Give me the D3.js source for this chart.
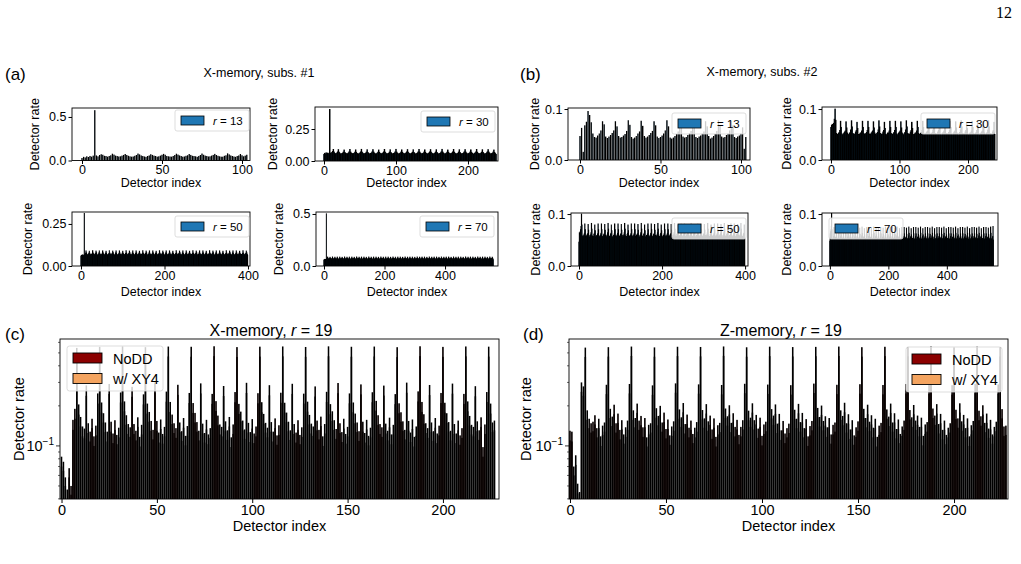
<!DOCTYPE html>
<html>
<head>
<meta charset="utf-8">
<script src="https://cdn.jsdelivr.net/npm/d3@7/dist/d3.min.js"></script>
<style>
  body { margin: 0; background: #fff; }
  svg text { font-family: "Liberation Sans", Arial, Helvetica, sans-serif; fill: #000; }
</style>
</head>
<body>
<svg id="fig" width="1021" height="564"></svg>
<script>
// detector rates in units of 1e-3, 8 detectors per round
var subs1_r13 = [
 28,42,35,48,40,52,44,56, 578,58,48,62,72,66,54,50,
 44,52,60,78,68,56,50,46, 48,56,64,74,62,54,48,44,
 46,54,62,80,70,58,52,46, 42,50,58,72,64,56,50,44,
 48,56,66,76,66,52,48,46, 44,52,62,78,68,58,50,44,
 46,54,60,74,64,54,50,48, 42,52,62,80,66,56,52,46,
 48,56,64,76,62,54,48,44, 44,54,60,82,70,58,50,46,
 42,50,58,74,60,48,56,66];
var subs1_r30 = [
 52,60,55,64,58,62,56,60, 402,62,58,66,74,90,70,60,
 56,58,63,71,89,69,61,55, 54,59,62,70,86,67,60,57,
 55,57,64,72,90,70,62,56, 57,58,61,69,87,68,59,55,
 54,60,63,71,91,69,61,56, 56,58,62,70,88,67,60,55,
 55,59,64,72,89,70,62,57, 53,57,62,69,86,68,60,55,
 56,60,63,71,90,69,61,56, 55,58,61,70,88,67,59,54,
 57,59,64,72,91,70,62,56, 54,58,62,70,87,68,60,55,
 56,60,63,71,89,69,61,57, 55,57,62,69,88,67,60,55,
 53,59,64,72,90,70,62,56, 56,58,61,70,87,68,59,55,
 55,60,63,71,89,69,61,57, 54,58,62,70,88,67,60,54,
 56,59,64,72,91,70,62,56, 55,57,62,69,86,68,60,55,
 57,60,63,71,90,69,61,57, 54,58,61,70,88,67,59,55,
 56,59,64,72,89,70,62,56, 55,58,62,70,87,68,60,55,
 53,60,63,71,90,69,61,57, 56,57,62,69,88,67,60,54,
 55,59,64,72,89,70,62,56, 54,58,61,70,86,66,58,52];
var subs1_r50 = [
 58,62,60,66,63,65,61,64, 312,66,70,76,90,78,70,66,
 65,66,71,77,88,76,69,65, 63,68,70,75,91,77,71,66,
 66,67,72,76,89,79,70,64, 64,66,70,78,90,76,68,65,
 64,67,70,76,90,78,70,66, 65,66,71,77,88,76,69,65,
 63,68,70,75,91,77,71,66, 66,67,72,76,89,79,70,64,
 64,66,70,78,90,76,68,65, 64,67,70,76,90,78,70,66,
 65,66,71,77,88,76,69,65, 63,68,70,75,91,77,71,66,
 66,67,72,76,89,79,70,64, 64,66,70,78,90,76,68,65,
 64,67,70,76,90,78,70,66, 65,66,71,77,88,76,69,65,
 63,68,70,75,91,77,71,66, 66,67,72,76,89,79,70,64,
 64,66,70,78,90,76,68,65, 64,67,70,76,90,78,70,66,
 65,66,71,77,88,76,69,65, 63,68,70,75,91,77,71,66,
 66,67,72,76,89,79,70,64, 64,66,70,78,90,76,68,65,
 64,67,70,76,90,78,70,66, 65,66,71,77,88,76,69,65,
 63,68,70,75,91,77,71,66, 66,67,72,76,89,79,70,64,
 64,66,70,78,90,76,68,65, 64,67,70,76,90,78,70,66,
 65,66,71,77,88,76,69,65, 63,68,70,75,91,77,71,66,
 66,67,72,76,89,79,70,64, 64,66,70,78,90,76,68,65,
 64,67,70,76,90,78,70,66, 65,66,71,77,88,76,69,65,
 63,68,70,75,91,77,71,66, 66,67,72,76,89,79,70,64,
 64,66,70,78,90,76,68,65, 64,67,70,76,90,78,70,66,
 65,66,71,77,88,76,69,65, 63,68,70,75,91,77,71,66,
 66,67,72,76,89,79,70,64, 64,66,70,78,90,76,68,65,
 64,67,70,76,90,78,70,66, 65,66,71,77,88,76,69,65,
 63,68,70,75,91,77,71,66, 66,67,72,76,89,79,70,64];
var subs1_r70 = [
 56,60,58,64,61,63,59,62, 502,66,69,74,86,76,69,65,
 64,65,70,75,84,75,68,64, 62,67,69,73,87,77,70,65,
 65,66,71,74,85,76,69,63, 63,65,69,76,86,75,67,64,
 63,66,69,74,86,76,69,65, 64,65,70,75,84,75,68,64,
 62,67,69,73,87,77,70,65, 65,66,71,74,85,76,69,63,
 63,65,69,76,86,75,67,64, 63,66,69,74,86,76,69,65,
 64,65,70,75,84,75,68,64, 62,67,69,73,87,77,70,65,
 65,66,71,74,85,76,69,63, 63,65,69,76,86,75,67,64,
 63,66,69,74,86,76,69,65, 64,65,70,75,84,75,68,64,
 62,67,69,73,87,77,70,65, 65,66,71,74,85,76,69,63,
 63,65,69,76,86,75,67,64, 63,66,69,74,86,76,69,65,
 64,65,70,75,84,75,68,64, 62,67,69,73,87,77,70,65,
 65,66,71,74,85,76,69,63, 63,65,69,76,86,75,67,64,
 63,66,69,74,86,76,69,65, 64,65,70,75,84,75,68,64,
 62,67,69,73,87,77,70,65, 65,66,71,74,85,76,69,63,
 63,65,69,76,86,75,67,64, 63,66,69,74,86,76,69,65,
 64,65,70,75,84,75,68,64, 62,67,69,73,87,77,70,65,
 65,66,71,74,85,76,69,63, 63,65,69,76,86,75,67,64,
 63,66,69,74,86,76,69,65, 64,65,70,75,84,75,68,64,
 62,67,69,73,87,77,70,65, 65,66,71,74,85,76,69,63,
 63,65,69,76,86,75,67,64, 63,66,69,74,86,76,69,65,
 64,65,70,75,84,75,68,64, 62,67,69,73,87,77,70,65,
 65,66,71,74,85,76,69,63, 63,65,69,76,86,75,67,64,
 63,66,69,74,86,76,69,65, 64,65,70,75,84,75,68,64,
 62,67,69,73,87,77,70,65, 65,66,71,74,85,76,69,63,
 63,65,69,76,86,75,67,64, 63,66,69,74,86,76,69,65,
 64,65,70,75,84,75,68,64, 62,67,69,73,87,77,70,65,
 65,66,71,74,85,76,69,63, 63,65,69,76,86,75,67,64,
 63,66,69,74,86,76,69,65, 64,65,70,75,84,75,68,64,
 62,67,69,73,87,77,70,65, 65,66,71,74,85,76,69,63,
 63,65,69,76,86,75,67,64, 63,66,69,74,86,76,69,65,
 64,65,70,75,84,75,68,64, 62,67,69,73,87,77,70,65,
 65,66,71,74,85,76,69,63, 63,65,69,76,86,75,67,64,
 63,66,69,74,86,76,69,65, 64,65,70,75,84,75,68,64,
 62,67,69,73,87,77,70,65, 65,66,71,74,85,76,69,61];

var subs2_r13 = [
 47,63,16,68,75,96,88,74, 52,45,44,48,52,58,76,70,
 46,43,46,49,53,58,76,66, 47,44,45,48,51,57,78,69,
 45,42,44,47,52,56,77,67, 47,44,46,49,53,57,76,68,
 46,43,45,48,52,58,78,66, 44,42,44,47,51,56,75,67,
 46,44,45,49,53,57,77,68, 45,43,46,48,52,56,76,66,
 47,42,44,47,51,57,78,67, 46,44,45,49,52,58,77,68,
 45,43,46,48,52,64,22,45];
var subs2_r30 = [
 64,68,70,66,72,80,100,78, 52,50,50,52,54,58,76,64,
 51,49,51,53,55,57,75,63, 53,50,49,52,54,59,77,65,
 52,51,50,51,55,58,74,62, 50,49,51,53,53,57,76,64,
 52,50,50,52,54,58,76,64, 51,49,51,53,55,57,75,63,
 53,50,49,52,54,59,77,65, 52,51,50,51,55,58,74,62,
 50,49,51,53,53,57,76,64, 52,50,50,52,54,58,76,64,
 51,49,51,53,55,57,75,63, 53,50,49,52,54,59,77,65,
 52,51,50,51,55,58,74,62, 50,49,51,53,53,57,76,64,
 52,50,50,52,54,58,76,64, 51,49,51,53,55,57,75,63,
 53,50,49,52,54,59,77,65, 52,51,50,51,55,58,74,62,
 50,49,51,53,53,57,76,64, 52,50,50,52,54,58,76,64,
 51,49,51,53,55,57,75,63, 53,50,49,52,54,59,77,65,
 52,51,50,51,55,58,74,62, 50,49,51,53,53,57,76,64,
 52,50,50,52,54,58,76,64, 51,49,51,53,55,57,75,63,
 53,50,49,52,54,59,77,65, 52,51,50,51,55,58,74,50];
var subs2_r50 = [
 46,64,60,66,70,76,100,79, 58,56,56,58,60,63,81,70,
 57,55,57,59,61,62,80,69, 59,56,55,58,60,64,82,71,
 58,57,56,57,61,63,79,68, 56,55,57,59,59,62,81,70,
 58,56,56,58,60,63,81,70, 57,55,57,59,61,62,80,69,
 59,56,55,58,60,64,82,71, 58,57,56,57,61,63,79,68,
 56,55,57,59,59,62,81,70, 58,56,56,58,60,63,81,70,
 57,55,57,59,61,62,80,69, 59,56,55,58,60,64,82,71,
 58,57,56,57,61,63,79,68, 56,55,57,59,59,62,81,70,
 58,56,56,58,60,63,81,70, 57,55,57,59,61,62,80,69,
 59,56,55,58,60,64,82,71, 58,57,56,57,61,63,79,68,
 56,55,57,59,59,62,81,70, 58,56,56,58,60,63,81,70,
 57,55,57,59,61,62,80,69, 59,56,55,58,60,64,82,71,
 58,57,56,57,61,63,79,68, 56,55,57,59,59,62,81,70,
 58,56,56,58,60,63,81,70, 57,55,57,59,61,62,80,69,
 59,56,55,58,60,64,82,71, 58,57,56,57,61,63,79,68,
 56,55,57,59,59,62,81,70, 58,56,56,58,60,63,81,70,
 57,55,57,59,61,62,80,69, 59,56,55,58,60,64,82,71,
 58,57,56,57,61,63,79,68, 56,55,57,59,59,62,81,70,
 58,56,56,58,60,63,81,70, 57,55,57,59,61,62,80,69,
 59,56,55,58,60,64,82,71, 58,57,56,57,61,63,79,68,
 56,55,57,59,59,62,81,70, 58,56,56,58,60,63,81,70,
 57,55,57,59,61,62,80,69, 59,56,55,58,60,64,82,71,
 58,57,56,57,61,63,79,68, 56,55,57,59,59,62,81,70,
 58,56,56,58,60,63,81,70, 57,55,57,59,61,62,80,69,
 59,56,55,58,60,64,82,71, 58,57,56,57,61,63,79,52];
var subs2_r70 = [
 48,62,58,66,70,76,101,70, 52,51,51,52,54,57,74,62,
 51,50,52,53,55,56,73,61, 53,51,50,52,54,58,75,63,
 52,52,51,51,55,57,72,60, 50,50,52,53,53,56,74,62,
 52,51,51,52,54,57,74,62, 51,50,52,53,55,56,73,61,
 53,51,50,52,54,58,75,63, 52,52,51,51,55,57,72,60,
 50,50,52,53,53,56,74,62, 52,51,51,52,54,57,74,62,
 51,50,52,53,55,56,73,61, 53,51,50,52,54,58,75,63,
 52,52,51,51,55,57,72,60, 50,50,52,53,53,56,74,62,
 52,51,51,52,54,57,74,62, 51,50,52,53,55,56,73,61,
 53,51,50,52,54,58,75,63, 52,52,51,51,55,57,72,60,
 50,50,52,53,53,56,74,62, 52,51,51,52,54,57,74,62,
 51,50,52,53,55,56,73,61, 53,51,50,52,54,58,75,63,
 52,52,51,51,55,57,72,60, 50,50,52,53,53,56,74,62,
 52,51,51,52,54,57,74,62, 51,50,52,53,55,56,73,61,
 53,51,50,52,54,58,75,63, 52,52,51,51,55,57,72,60,
 50,50,52,53,53,56,74,62, 52,51,51,52,54,57,74,62,
 51,50,52,53,55,56,73,61, 53,51,50,52,54,58,75,63,
 52,52,51,51,55,57,72,60, 50,50,52,53,53,56,74,62,
 52,51,51,52,54,57,74,62, 51,50,52,53,55,56,73,61,
 53,51,50,52,54,58,75,63, 52,52,51,51,55,57,72,60,
 50,50,52,53,53,56,74,62, 52,51,51,52,54,57,74,62,
 51,50,52,53,55,56,73,61, 53,51,50,52,54,58,75,63,
 52,52,51,51,55,57,72,60, 50,50,52,53,53,56,74,62,
 52,51,51,52,54,57,74,62, 51,50,52,53,55,56,73,61,
 53,51,50,52,54,58,75,63, 52,52,51,51,55,57,72,60,
 50,50,52,53,53,56,74,62, 52,51,51,52,54,57,74,62,
 51,50,52,53,55,56,73,61, 53,51,50,52,54,58,75,63,
 52,52,51,51,55,57,72,60, 50,50,52,53,53,56,74,62,
 52,51,51,52,54,57,74,62, 51,50,52,53,55,56,73,61,
 53,51,50,52,54,58,75,63, 52,52,51,51,55,57,72,60,
 50,50,52,53,53,56,74,62, 52,51,51,52,54,57,74,62,
 51,50,52,53,55,56,73,61, 53,51,50,52,54,58,75,63,
 52,52,51,51,55,57,72,60, 50,50,52,53,53,56,74,62,
 52,51,51,52,54,57,74,62, 51,50,52,53,55,56,73,61,
 53,51,50,52,54,58,75,63, 52,52,51,51,55,57,76,50];

// r = 19, 12 detectors per round, units of 1e-3
var xmemNoDD = [
 83,76,58,47,68,50,157,190,545,205,165,140,
 135,285,148,128,160,118,142,248,555,212,176,150,
 128,292,152,124,156,121,137,252,560,216,170,146,
 138,278,146,130,164,117,144,244,552,208,180,154,
 132,300,154,126,158,123,139,256,558,214,172,148,
 136,288,150,129,162,119,141,250,556,210,177,151,
 130,295,147,125,157,122,136,246,561,217,169,145,
 139,282,153,131,165,116,145,254,553,207,181,155,
 133,298,149,127,159,124,140,249,557,213,174,149,
 137,286,151,128,161,120,143,251,559,211,178,152,
 131,293,146,126,156,121,138,247,554,215,171,147,
 140,280,155,132,166,118,146,255,560,206,182,156,
 134,297,148,127,160,123,139,248,556,212,175,150,
 129,290,152,125,157,119,137,253,558,218,170,146,
 138,284,147,130,163,122,144,245,552,209,179,153,
 132,299,154,126,158,117,140,257,561,214,173,148,
 136,287,150,129,162,124,142,250,555,211,176,151,
 130,294,146,124,155,120,136,246,559,216,168,144,
 139,281,153,131,164,98,145,254,557,208,150,155];
var xmemXY4 = [
 70,65,50,40,58,43,132,160,455,172,140,118,
 114,238,125,108,136,100,120,208,468,178,150,127,
 108,246,128,105,132,103,116,212,472,182,144,123,
 117,234,123,110,139,99,122,205,465,175,152,130,
 112,252,130,106,134,104,118,215,470,180,146,125,
 115,242,127,109,137,101,119,210,468,177,150,128,
 110,248,124,106,133,103,115,207,473,183,143,122,
 118,237,129,111,140,98,123,213,466,174,153,131,
 113,250,126,107,135,105,118,209,469,179,147,126,
 116,240,128,108,136,102,121,211,471,178,151,129,
 111,246,123,106,132,103,117,208,467,181,145,124,
 119,235,131,112,141,100,124,214,472,173,154,132,
 113,249,125,107,135,104,118,209,468,179,148,127,
 109,244,128,106,133,101,116,213,470,184,144,123,
 117,239,124,110,138,103,122,206,465,176,152,130,
 112,251,130,107,134,99,119,216,473,180,147,125,
 115,241,127,109,137,105,120,210,467,178,149,128,
 110,247,123,105,131,102,115,207,471,182,142,122,
 118,236,129,111,139,83,123,214,469,175,127,131];
var zmemNoDD = [
 130,128,70,85,52,45,300,280,548,185,160,148,
 152,170,136,160,118,142,150,288,552,190,166,204,
 148,175,132,156,122,138,155,292,558,185,162,208,
 155,168,138,162,116,144,148,285,550,192,168,200,
 150,178,134,158,120,140,153,295,556,188,164,210,
 146,172,137,155,123,137,151,290,554,186,161,206,
 153,169,133,161,117,143,149,287,559,191,167,202,
 149,176,139,157,121,139,156,293,551,184,163,209,
 156,171,135,163,119,145,152,289,557,189,169,205,
 147,174,131,154,124,136,147,286,553,187,160,207,
 151,177,136,159,118,141,154,294,555,193,165,201,
 154,167,138,162,122,144,150,288,558,185,168,211,
 148,173,133,156,120,138,153,291,552,190,162,204,
 152,170,137,160,117,142,149,287,556,188,166,208,
 150,176,134,158,123,140,155,292,554,186,164,203,
 155,169,139,163,119,145,151,289,559,191,169,206,
 146,174,132,155,121,137,148,286,551,187,161,209,
 153,171,136,161,118,143,154,293,557,184,167,202,
 149,175,135,157,122,139,152,290,553,189,140,142];
var zmemXY4 = [
 110,108,60,72,44,38,255,238,466,157,136,126,
 129,145,116,136,100,121,128,245,469,162,141,173,
 126,149,112,133,104,117,132,248,474,157,138,177,
 132,143,117,138,99,122,126,242,468,163,143,170,
 128,151,114,134,102,119,130,251,473,160,139,179,
 124,146,116,132,105,116,128,247,471,158,137,175,
 130,144,113,137,99,122,127,244,475,162,142,172,
 127,150,118,133,103,118,133,249,468,156,139,178,
 133,145,115,139,101,123,129,246,473,161,144,174,
 125,148,111,131,105,116,125,243,470,159,136,176,
 128,150,116,135,100,120,131,250,472,164,140,171,
 131,142,117,138,104,122,128,245,474,157,143,179,
 126,147,113,133,102,117,130,247,469,162,138,173,
 129,145,116,136,99,121,127,244,473,160,141,177,
 128,150,114,134,105,119,132,248,471,158,139,173,
 132,144,118,139,101,123,128,246,475,162,144,175,
 124,148,112,132,103,116,126,243,468,159,137,178,
 130,145,116,137,100,122,131,249,474,156,142,172,
 127,149,115,133,104,118,129,247,470,161,119,121];

var xTicks13 = [0, 50, 100], xTicks30 = [0, 100, 200], xTicks50 = [0, 200, 400], xTicks70 = [0, 200, 400];
var xTicksBig = [0, 50, 100, 150, 200];
var logMajor = [0.1];
var logMinor = [0.04, 0.05, 0.06, 0.07, 0.08, 0.09, 0.2, 0.3, 0.4, 0.5, 0.6];

var svg = d3.select("#fig");

var smallPanels = [
  {vals: subs1_r13, r: 13, box: [72, 250, 108, 160.5], xd: [-6.25, 105], ymax: 0.603, yt: [0, 0.5], fmt: ".1f", xt: xTicks13, leg: [175, 110], lab: 37, xlab: 187},
  {vals: subs1_r30, r: 30, box: [315, 498, 107, 161], xd: [-12.5, 241.7], ymax: 0.422, yt: [0, 0.25], fmt: ".2f", xt: xTicks30, leg: [421, 111], lab: 42, xlab: 187},
  {vals: subs1_r50, r: 50, box: [72, 250, 212, 266], xd: [-21.6, 404.8], ymax: 0.321, yt: [0, 0.25], fmt: ".2f", xt: xTicks50, leg: [175, 216], lab: 44, xlab: 296},
  {vals: subs1_r70, r: 70, box: [316, 498, 212, 266], xd: [-26.4, 575], ymax: 0.519, yt: [0, 0.5], fmt: ".1f", xt: xTicks70, leg: [420, 216], lab: 37, xlab: 296},
  {vals: subs2_r13, r: 13, box: [568, 750, 108, 160], xd: [-7.45, 105.6], ymax: 0.102, yt: [0, 0.1], fmt: ".1f", xt: xTicks13, leg: [672, 113], lab: 33, xlab: 187},
  {vals: subs2_r30, r: 30, box: [822, 997, 107, 160], xd: [-13.1, 242.3], ymax: 0.104, yt: [0, 0.1], fmt: ".1f", xt: xTicks30, leg: [921, 113], lab: 35, xlab: 187},
  {vals: subs2_r50, r: 50, box: [571, 748, 213, 266], xd: [-19.3, 407], ymax: 0.102, yt: [0, 0.1], fmt: ".1f", xt: xTicks50, leg: [672, 218], lab: 35, xlab: 296},
  {vals: subs2_r70, r: 70, box: [822, 998, 213, 266], xd: [-27, 575], ymax: 0.102, yt: [0, 0.1], fmt: ".1f", xt: xTicks70, leg: [829, 218], lab: 35, xlab: 296}
];

function rLabel(sel, r) {
  sel.append("tspan").attr("font-style", "italic").text("r");
  sel.append("tspan").text(" = " + r);
}

smallPanels.forEach(function (p, k) {
  var l = p.box[0], r = p.box[1], t = p.box[2], b = p.box[3];
  var x = d3.scaleLinear().domain(p.xd).range([l, r]);
  var y = d3.scaleLinear().domain([0, p.ymax]).range([b, t]);
  var g = svg.append("g");
  var w = (x(1) - x(0)) * 0.8;
  // wide bars (r = 13) keep the edge inside so gaps between bars stay visible
  var inner = w > 1 ? 0.85 : 0;
  g.append("clipPath").attr("id", "clip" + k).append("rect")
    .attr("x", l).attr("y", t).attr("width", r - l).attr("height", b - t);
  g.append("g").attr("clip-path", "url(#clip" + k + ")")
    .selectAll("rect").data(p.vals).join("rect")
    .attr("x", function (d, i) { return x(i) - w / 2 + inner / 2; })
    .attr("width", w - inner)
    .attr("y", function (d) { return y(d / 1000) + inner / 2; })
    .attr("height", function (d) { return b + 1 - y(d / 1000); })
    .attr("fill", "#1f77b4").attr("stroke", "#000").attr("stroke-width", inner ? inner : 0.85);

  var ax = g.append("g").attr("transform", "translate(0," + b + ")")
    .call(d3.axisBottom(x).tickValues(p.xt).tickSize(3.5).tickPadding(1.5).tickSizeOuter(0).tickFormat(d3.format("d")));
  ax.select(".domain").remove();
  ax.attr("font-size", 12.5);
  var ay = g.append("g").attr("transform", "translate(" + l + ",0)")
    .call(d3.axisLeft(y).tickValues(p.yt).tickSize(3.5).tickPadding(2).tickSizeOuter(0).tickFormat(d3.format(p.fmt)));
  ay.select(".domain").remove();
  ay.attr("font-size", 12.5);

  g.append("rect").attr("x", l).attr("y", t).attr("width", r - l).attr("height", b - t)
    .attr("fill", "none").attr("stroke", "#000").attr("stroke-width", 0.9);

  g.append("text").attr("x", (l + r) / 2).attr("y", p.xlab).attr("text-anchor", "middle")
    .attr("font-size", 12.5).text("Detector index");
  g.append("text").attr("transform", "translate(" + (l - p.lab) + "," + ((t + b) / 2) + ") rotate(-90)")
    .attr("text-anchor", "middle").attr("dy", "0.35em").attr("font-size", 12.5).text("Detector rate");

  // legend
  var lx = p.leg[0], ly = p.leg[1];
  g.append("rect").attr("x", lx).attr("y", ly).attr("width", 74).attr("height", 21).attr("rx", 2)
    .attr("fill", "#fff").attr("fill-opacity", 0.8).attr("stroke", "#d4d4d4").attr("stroke-width", 0.8);
  g.append("rect").attr("x", lx + 6).attr("y", ly + 6).attr("width", 23).attr("height", 9)
    .attr("fill", "#1f77b4").attr("stroke", "#000").attr("stroke-width", 0.8);
  g.append("text").attr("x", lx + 38).attr("y", ly + 15).attr("font-size", 11.5).call(rLabel, p.r);
});

// panel tags and suptitles
svg.append("text").attr("x", 5).attr("y", 80).attr("font-size", 17).text("(a)");
svg.append("text").attr("x", 520).attr("y", 80).attr("font-size", 17).text("(b)");
svg.append("text").attr("x", 259).attr("y", 77).attr("text-anchor", "middle").attr("font-size", 12.5).text("X-memory, subs. #1");
svg.append("text").attr("x", 762).attr("y", 76).attr("text-anchor", "middle").attr("font-size", 12.5).text("X-memory, subs. #2");
svg.append("text").attr("x", 1012).attr("y", 18).attr("text-anchor", "end").attr("font-size", 16)
  .style("font-family", "'Liberation Serif', 'DejaVu Serif', serif").text("12");

var bigPanels = [
  {noDD: xmemNoDD, xy4: xmemXY4, title: "X-memory, ", box: [60, 499, 339, 499], xd: [-0.8, 229.4], leg: [67, 346], tag: "(c)", tagX: 5, titleX: 271, labX: 19},
  {noDD: zmemNoDD, xy4: zmemXY4, title: "Z-memory, ", box: [569, 1008, 339, 499], xd: [-0.5, 228.1], leg: [906, 347], tag: "(d)", tagX: 523, titleX: 781, labX: 526}
];
var logDomain = [0.0399, 0.636];
var edgeW = 1.1;

bigPanels.forEach(function (p, k) {
  var l = p.box[0], r = p.box[1], t = p.box[2], b = p.box[3];
  var x = d3.scaleLinear().domain(p.xd).range([l, r]);
  var y = d3.scaleLog().domain(logDomain).range([b, t]);
  var g = svg.append("g");
  var w = (x(1) - x(0)) * 0.8;
  g.append("clipPath").attr("id", "bclip" + k).append("rect")
    .attr("x", l).attr("y", t).attr("width", r - l).attr("height", b - t);
  var bars = g.append("g").attr("clip-path", "url(#bclip" + k + ")");
  // edge kept inside each bar so the thin gaps between bars stay light
  [[p.xy4, "#f4a460"], [p.noDD, "#8b0000"]].forEach(function (s) {
    bars.append("g").selectAll("rect").data(s[0]).join("rect")
      .attr("x", function (d, i) { return x(i) - w / 2 + edgeW / 2; })
      .attr("width", w - edgeW)
      .attr("y", function (d) { return y(d / 1000) + edgeW / 2; })
      .attr("height", function (d) { return b + 2 - y(d / 1000); })
      .attr("fill", s[1]).attr("stroke", "#000").attr("stroke-width", edgeW);
  });

  var ax = g.append("g").attr("transform", "translate(0," + b + ")")
    .call(d3.axisBottom(x).tickValues(xTicksBig).tickSize(4).tickPadding(2).tickSizeOuter(0).tickFormat(d3.format("d")));
  ax.select(".domain").remove();
  ax.attr("font-size", 14.5);

  g.selectAll("line.minor").data(logMinor).join("line")
    .attr("x1", l - 2).attr("x2", l).attr("y1", function (d) { return y(d); }).attr("y2", function (d) { return y(d); })
    .attr("stroke", "#000").attr("stroke-width", 0.6);
  g.selectAll("line.major").data(logMajor).join("line")
    .attr("x1", l - 4).attr("x2", l).attr("y1", function (d) { return y(d); }).attr("y2", function (d) { return y(d); })
    .attr("stroke", "#000").attr("stroke-width", 0.8);
  logMajor.forEach(function (v) {
    var tx = g.append("text").attr("x", l - 6).attr("y", y(v) + 5).attr("text-anchor", "end").attr("font-size", 14.5);
    tx.append("tspan").text("10");
    tx.append("tspan").attr("font-size", 10).attr("dy", -6).text("\u22121");
  });

  g.append("rect").attr("x", l).attr("y", t).attr("width", r - l).attr("height", b - t)
    .attr("fill", "none").attr("stroke", "#000").attr("stroke-width", 0.9);

  g.append("text").attr("x", (l + r) / 2).attr("y", 531).attr("text-anchor", "middle")
    .attr("font-size", 14.5).text("Detector index");
  g.append("text").attr("transform", "translate(" + p.labX + "," + ((t + b) / 2) + ") rotate(-90)")
    .attr("text-anchor", "middle").attr("dy", "0.35em").attr("font-size", 14.5).text("Detector rate");
  var tt = g.append("text").attr("x", p.titleX).attr("y", 336).attr("text-anchor", "middle").attr("font-size", 16);
  tt.append("tspan").text(p.title);
  rLabel(tt, 19);
  svg.append("text").attr("x", p.tagX).attr("y", 340).attr("font-size", 17).text(p.tag);

  var lx = p.leg[0], ly = p.leg[1];
  g.append("rect").attr("x", lx).attr("y", ly).attr("width", 96).attr("height", 45).attr("rx", 2.5)
    .attr("fill", "#fff").attr("fill-opacity", 0.8).attr("stroke", "#d4d4d4").attr("stroke-width", 0.8);
  [["NoDD", "#8b0000"], ["w/ XY4", "#f4a460"]].forEach(function (e, j) {
    g.append("rect").attr("x", lx + 6).attr("y", ly + 7 + j * 20.5).attr("width", 29).attr("height", 10)
      .attr("fill", e[1]).attr("stroke", "#000").attr("stroke-width", 0.9);
    g.append("text").attr("x", lx + 46).attr("y", ly + 17.5 + j * 20.5).attr("font-size", 14.5).text(e[0]);
  });
});
</script>
</body>
</html>
